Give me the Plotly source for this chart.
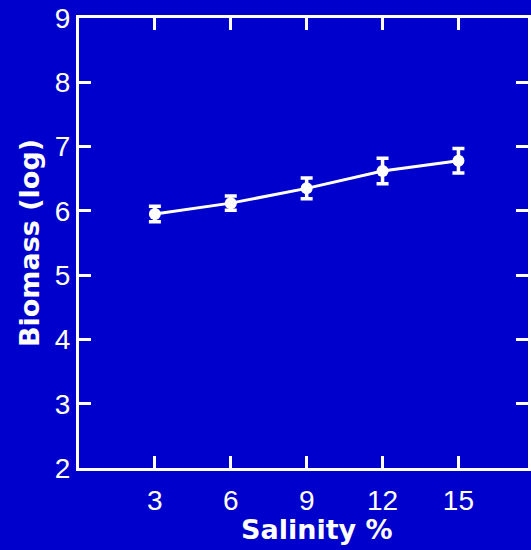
import plotly.graph_objects as go

salinity = [3, 6, 9, 12, 15]
biomass = [5.95, 6.12, 6.35, 6.62, 6.78]
biomass_err = [0.12, 0.11, 0.16, 0.20, 0.19]
x_ticks = [3, 6, 9, 12, 15]
y_ticks = [2, 3, 4, 5, 6, 7, 8, 9]

bg = "#0000CC"
white = "#FFFFFF"

fig = go.Figure()
fig.add_trace(go.Scatter(
    x=salinity, y=biomass, mode="lines+markers",
    line=dict(color=white, width=3),
    marker=dict(color=white, size=12),
    error_y=dict(type="data", array=biomass_err, visible=True,
                 color=white, thickness=3.5, width=6),
    showlegend=False,
))

tickfont = dict(family="Liberation Sans, Arial, sans-serif", size=28, color=white)
titlefont = dict(family="DejaVu Sans, sans-serif", size=27, color=white, weight="bold")

fig.update_layout(
    width=531, height=550,
    margin=dict(l=79, r=0, t=18, b=82),
    paper_bgcolor=bg, plot_bgcolor=bg,
    xaxis=dict(range=[0, 17.75], tickvals=x_ticks, ticktext=[str(v) for v in x_ticks],
               showgrid=False, zeroline=False,
               showline=True, linecolor=white, linewidth=3, mirror="ticks",
               ticks="inside", ticklen=12, tickwidth=3, tickcolor=white,
               tickfont=tickfont, ticklabelstandoff=5),
    yaxis=dict(range=[2, 9], tickvals=y_ticks, ticktext=[str(v) for v in y_ticks],
               showgrid=False, zeroline=False,
               showline=True, linecolor=white, linewidth=3, mirror="ticks",
               ticks="inside", ticklen=12, tickwidth=3, tickcolor=white,
               tickfont=tickfont,
               title=dict(text="Biomass (log)", font=titlefont, standoff=8)),
    annotations=[dict(text="Salinity %", font=titlefont, showarrow=False,
                      xref="paper", yref="paper", x=0.531, y=0, yshift=-61,
                      xanchor="center", yanchor="middle")],
)

fig.write_html("out.html")
